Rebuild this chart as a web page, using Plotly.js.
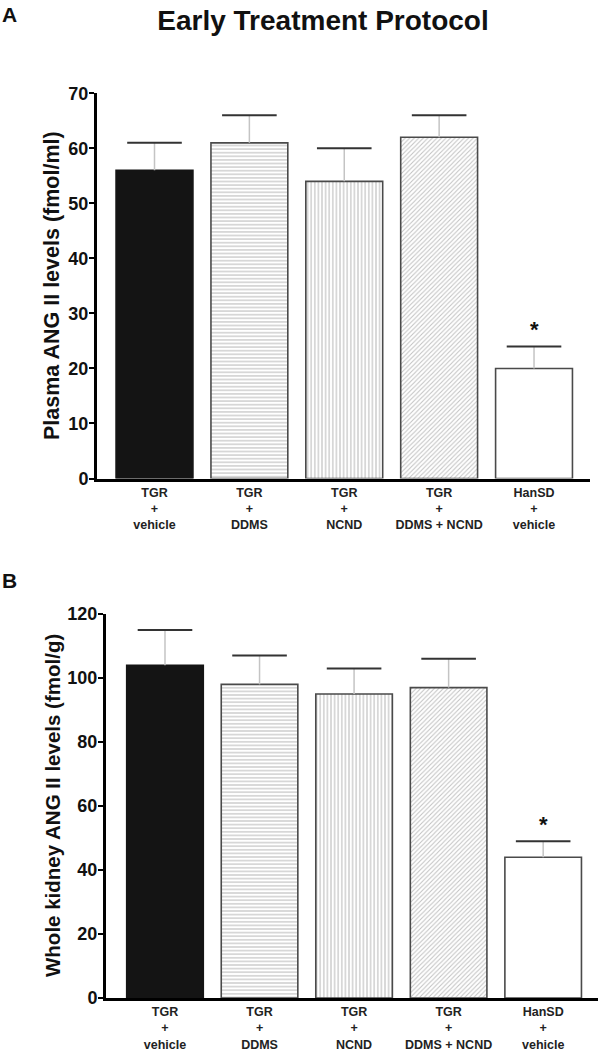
<!DOCTYPE html>
<html>
<head>
<meta charset="utf-8">
<script src="https://cdn.plot.ly/plotly-3.0.1.min.js"></script>
<style>html,body{margin:0;padding:0;background:#fff;}#chart{width:600px;height:1050px;}</style>
</head>
<body>
<div id="chart"></div>
<script>
// ---- data ----
const groupTop = ['TGR', 'TGR', 'TGR', 'TGR', 'HanSD'];
const groupBottom = ['vehicle', 'DDMS', 'NCND', 'DDMS + NCND', 'vehicle'];
const plasmaMean = [56, 61, 54, 62, 20];
const plasmaSem = [5, 5, 6, 4, 4];
const kidneyMean = [104, 98, 95, 97, 44];
const kidneySem = [11, 9, 8, 9, 5];
const significant = [false, false, false, false, true];
const plasmaTicks = [0, 10, 20, 30, 40, 50, 60, 70];
const kidneyTicks = [0, 20, 40, 60, 80, 100, 120];

// ---- styles ----
const categories = groupTop.map((t, i) => t + '<br>+<br>' + groupBottom[i]);
const FONT = 'Liberation Sans, Arial, Helvetica, sans-serif';
const fillColors = ['#141414', '#ffffff', '#ffffff', '#ffffff', '#ffffff'];
const patternShapes = ['', '-', '|', '/', ''];
const patternSizes = [4, 3.6, 3.6, 3.2, 4];
const outlineColors = ['#141414', '#4a4a4a', '#4a4a4a', '#4a4a4a', '#4a4a4a'];

function barTraces(vals, errs, xa, ya) {
  return categories.map((c, i) => {
    const marker = {color: fillColors[i], line: {color: outlineColors[i], width: 1.6}};
    if (patternShapes[i]) {
      marker.pattern = {shape: patternShapes[i], fgcolor: '#858585', bgcolor: '#ffffff',
                        size: patternSizes[i], solidity: 0.33, fillmode: 'overlay'};
    }
    return {
      type: 'bar', x: [c], y: [vals[i]], xaxis: xa, yaxis: ya, width: 0.81,
      marker: marker,
      error_y: {type: 'data', symmetric: false, array: [errs[i]], arrayminus: [0],
                color: '#c4c4c4', thickness: 1.5, width: 0},
      hoverinfo: 'skip'
    };
  });
}
function capTrace(vals, errs, xa, ya) {
  return {
    type: 'scatter', mode: 'markers', x: categories, y: vals.map((v, i) => v + errs[i]),
    xaxis: xa, yaxis: ya,
    marker: {symbol: 'line-ew', size: 39, color: '#333', line: {color: '#333', width: 2}},
    hoverinfo: 'skip'
  };
}

const data = [].concat(
  barTraces(plasmaMean, plasmaSem, 'x', 'y'),
  [capTrace(plasmaMean, plasmaSem, 'x', 'y')],
  barTraces(kidneyMean, kidneySem, 'x2', 'y2'),
  [capTrace(kidneyMean, kidneySem, 'x2', 'y2')]
);

function xAxis(domain, anchor, range) {
  return {
    domain: domain, anchor: anchor, type: 'category', range: range,
    showline: true, linewidth: 3, linecolor: '#000', ticks: '', showgrid: false, zeroline: false,
    tickfont: {family: FONT, size: 12.5, color: '#222', weight: 'bold'}, automargin: false
  };
}
function yAxis(domain, anchor, range, ticks) {
  return {
    domain: domain, anchor: anchor, range: range, tickvals: ticks,
    showline: true, linewidth: 3, linecolor: '#000', ticks: 'outside', ticklen: 5, tickwidth: 2, tickcolor: '#000',
    ticklabelstandoff: -3,
    showgrid: false, zeroline: false, automargin: false,
    tickfont: {family: FONT, size: 18, color: '#111', weight: 'bold'}
  };
}

const annotations = [
  {text: 'A', xref: 'paper', yref: 'paper', x: 0.0, y: 1 - 15 / 1050, xanchor: 'left', yanchor: 'middle',
   showarrow: false, font: {family: FONT, size: 21, color: '#111', weight: 'bold'}},
  {text: 'B', xref: 'paper', yref: 'paper', x: 0.0, y: 1 - 580 / 1050, xanchor: 'left', yanchor: 'middle',
   showarrow: false, font: {family: FONT, size: 21, color: '#111', weight: 'bold'}},
  {text: 'Plasma ANG II levels (fmol/ml)', textangle: -90, xref: 'paper', yref: 'paper',
   x: 52 / 600, y: 1 - 286 / 1050, xanchor: 'center', yanchor: 'middle', showarrow: false,
   font: {family: FONT, size: 21.5, color: '#111', weight: 'bold'}},
  {text: 'Whole kidney ANG II levels (fmol/g)', textangle: -90, xref: 'paper', yref: 'paper',
   x: 52 / 600, y: 1 - 806 / 1050, xanchor: 'center', yanchor: 'middle', showarrow: false,
   font: {family: FONT, size: 20.5, color: '#111', weight: 'bold'}}
];
significant.forEach((s, i) => {
  if (!s) return;
  annotations.push({text: '*', xref: 'x', yref: 'y', x: categories[i], y: plasmaMean[i] + plasmaSem[i],
    yanchor: 'bottom', yshift: 2, showarrow: false, font: {family: FONT, size: 22, color: '#111', weight: 'bold'}});
  annotations.push({text: '*', xref: 'x2', yref: 'y2', x: categories[i], y: kidneyMean[i] + kidneySem[i],
    yanchor: 'bottom', yshift: 2, showarrow: false, font: {family: FONT, size: 22, color: '#111', weight: 'bold'}});
});

const layout = {
  width: 600, height: 1050,
  margin: {l: 0, r: 0, t: 0, b: 0},
  paper_bgcolor: '#fff', plot_bgcolor: '#fff',
  showlegend: false, barmode: 'overlay',
  title: {text: 'Early Treatment Protocol', x: 323 / 600, xanchor: 'center', xref: 'paper',
          y: 1 - 20 / 1050, yanchor: 'middle', yref: 'paper',
          font: {family: FONT, size: 28, color: '#111', weight: 'bold'}},
  xaxis: xAxis([97 / 600, 590 / 600], 'y', [-0.606, 4.59]),
  yaxis: yAxis([1 - 478.5 / 1050, 1 - 93.3 / 1050], 'x', [0, 70], plasmaTicks),
  xaxis2: xAxis([106 / 600, 598 / 600], 'y2', [-0.624, 4.58]),
  yaxis2: yAxis([1 - 998 / 1050, 1 - 614 / 1050], 'x2', [0, 120], kidneyTicks),
  annotations: annotations
};

Plotly.newPlot('chart', data, layout, {displayModeBar: false, staticPlot: true});
</script>
</body>
</html>
